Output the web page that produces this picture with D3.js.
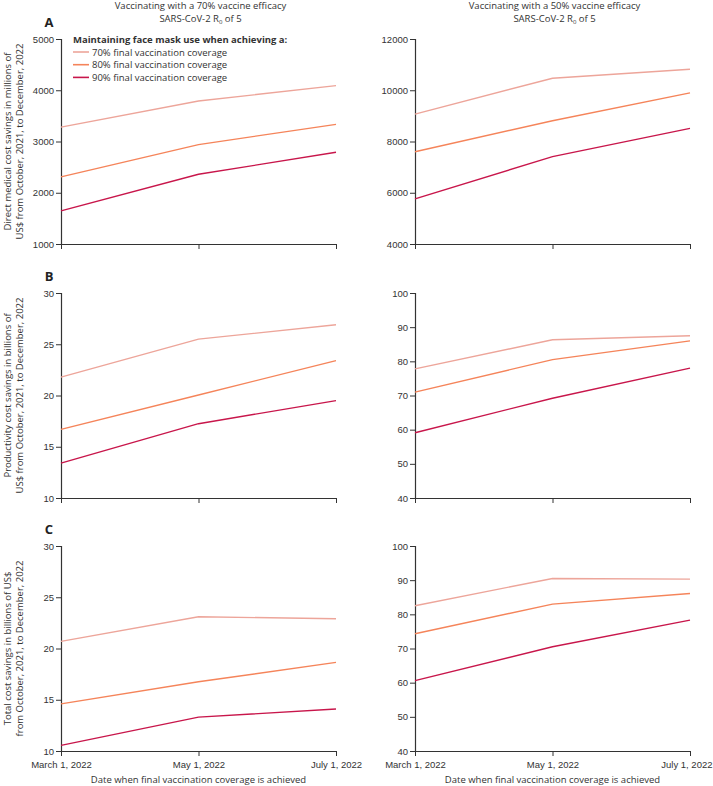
<!DOCTYPE html>
<html>
<head>
<meta charset="utf-8">
<script src="https://cdn.jsdelivr.net/npm/d3@7"></script>
<style>
  body { margin: 0; background: #fff; }
  svg { font-family: "Open Sans", "Noto Sans", sans-serif; }
  .tick text { fill: #333; font-size: 9.5px; }
  .domain, .tick line { stroke: #333; }
</style>
</head>
<body>
<svg id="chart"></svg>
<script>
const dates = ["March 1, 2022", "May 1, 2022", "July 1, 2022"];
const seriesNames = ["70% final vaccination coverage", "80% final vaccination coverage", "90%  final vaccination coverage"];
const colors = ["#eda59a", "#f5845a", "#c8164b"];

// panel A: direct medical cost savings (millions US$)
const directLeft70 = [3280, 3790, 4090];
const directLeft80 = [2310, 2940, 3335];
const directLeft90 = [1645, 2360, 2790];
const directRight70 = [9070, 10470, 10820];
const directRight80 = [7600, 8810, 9900];
const directRight90 = [5760, 7410, 8510];

// panel B: productivity cost savings (billions US$)
const prodLeft70 = [21.8, 25.5, 26.9];
const prodLeft80 = [16.7, 20.05, 23.4];
const prodLeft90 = [13.4, 17.25, 19.5];
const prodRight70 = [77.8, 86.3, 87.5];
const prodRight80 = [71.0, 80.5, 86.0];
const prodRight90 = [59.1, 69.2, 78.0];

// panel C: total cost savings (billions US$)
const totalLeft70 = [20.7, 23.1, 22.9];
const totalLeft80 = [14.6, 16.75, 18.65];
const totalLeft90 = [10.55, 13.3, 14.1];
const totalRight70 = [82.5, 90.5, 90.3];
const totalRight80 = [74.3, 83.0, 86.1];
const totalRight90 = [60.6, 70.5, 78.3];

const ticksA_left = [1000, 2000, 3000, 4000, 5000];
const ticksA_right = [4000, 6000, 8000, 10000, 12000];
const ticksBC_left = [10, 15, 20, 25, 30];
const ticksBC_right = [40, 50, 60, 70, 80, 90, 100];

const titles = [
  ["Vaccinating with a 70% vaccine efficacy", "SARS-CoV-2 R", "0", " of 5"],
  ["Vaccinating with a 50% vaccine efficacy", "SARS-CoV-2 R", "0", " of 5"]
];
const yLabels = [
  ["Direct medical cost savings in millions of", "US$ from October, 2021, to December, 2022"],
  ["Productivity cost savings in billions of", "US$ from October, 2021, to December, 2022"],
  ["Total cost savings in billions of US$", "from October, 2021, to December, 2022"]
];

const W = 713, H = 786;
const svg = d3.select("#chart").attr("width", W).attr("height", H);

const cols = [{x0: 61, x1: 336}, {x0: 415, x1: 690}];
const rows = [{y0: 39, y1: 244, letter: "A"}, {y0: 293, y1: 498, letter: "B"}, {y0: 546, y1: 751, letter: "C"}];

const panels = [
  {r: 0, c: 0, ticks: ticksA_left, data: [directLeft70, directLeft80, directLeft90]},
  {r: 0, c: 1, ticks: ticksA_right, data: [directRight70, directRight80, directRight90]},
  {r: 1, c: 0, ticks: ticksBC_left, data: [prodLeft70, prodLeft80, prodLeft90]},
  {r: 1, c: 1, ticks: ticksBC_right, data: [prodRight70, prodRight80, prodRight90]},
  {r: 2, c: 0, ticks: ticksBC_left, data: [totalLeft70, totalLeft80, totalLeft90]},
  {r: 2, c: 1, ticks: ticksBC_right, data: [totalRight70, totalRight80, totalRight90]}
];

panels.forEach(p => {
  const col = cols[p.c], row = rows[p.r];
  const x = d3.scalePoint().domain(dates).range([col.x0, col.x1]);
  const y = d3.scaleLinear().domain(d3.extent(p.ticks)).range([row.y1, row.y0]);
  const g = svg.append("g");

  const yAxis = g.append("g").attr("transform", `translate(${col.x0},0)`)
    .call(d3.axisLeft(y).tickValues(p.ticks).tickSize(5).tickPadding(2).tickFormat(d3.format("d")));
  const xAxis = g.append("g").attr("transform", `translate(0,${row.y1})`)
    .call(d3.axisBottom(x).tickSize(5).tickSizeOuter(0).tickFormat(p.r === 2 ? d => d : ""));
  xAxis.selectAll(".tick text").attr("dy", "0.9em");
  // keep the last date label inside the page on the right column
  if (p.c === 1) {
    xAxis.selectAll(".tick text").filter(d => d === dates[2])
      .attr("text-anchor", "end").attr("x", 22);
  }
  xAxis.select(".domain").attr("stroke-width", 1.2);
  yAxis.select(".domain").attr("stroke-width", 1.2);

  const line = d3.line().x((d, i) => x(dates[i])).y(d => y(d));
  p.data.forEach((s, i) => {
    g.append("path").datum(s).attr("d", line)
      .attr("fill", "none").attr("stroke", colors[i]).attr("stroke-width", 1.4);
  });

  if (p.c === 0) {
    svg.append("text").attr("x", 49).attr("y", row.y0 - 12).attr("text-anchor", "middle")
      .attr("font-size", 13).attr("font-weight", "bold").attr("fill", "#222").text(row.letter);
    const cy = (row.y0 + row.y1) / 2;
    yLabels[p.r].forEach((t, k) => {
      svg.append("text").attr("transform", `translate(${11 + k * 12},${cy}) rotate(-90)`)
        .attr("text-anchor", "middle").attr("font-size", 9.5).attr("fill", "#333").text(t);
    });
  }
  if (p.r === 2) {
    svg.append("text").attr("x", (col.x0 + col.x1) / 2).attr("y", 783).attr("text-anchor", "middle")
      .attr("font-size", 9.5).attr("fill", "#333").text("Date when final vaccination coverage is achieved");
  }
  if (p.r === 0) {
    const t = titles[p.c];
    const cx = (col.x0 + col.x1) / 2 + 2;
    svg.append("text").attr("x", cx).attr("y", 9).attr("text-anchor", "middle")
      .attr("font-size", 9.5).attr("fill", "#333").text(t[0]);
    const t2 = svg.append("text").attr("x", cx).attr("y", 22).attr("text-anchor", "middle")
      .attr("font-size", 9.5).attr("fill", "#333");
    t2.append("tspan").text(t[1]);
    t2.append("tspan").attr("font-size", 6).attr("dy", 2).text(t[2]);
    t2.append("tspan").attr("dy", -2).text(t[3]);
  }
});

// legend
const lg = svg.append("g").attr("transform", "translate(73,39)");
lg.append("text").attr("x", 0).attr("y", 4).attr("font-size", 9.5).attr("font-weight", "bold")
  .attr("fill", "#333").text("Maintaining face mask use when achieving a:");
seriesNames.forEach((n, i) => {
  const yy = 13 + i * 12.7;
  lg.append("line").attr("x1", 0).attr("x2", 16).attr("y1", yy).attr("y2", yy)
    .attr("stroke", colors[i]).attr("stroke-width", 1.6);
  lg.append("text").attr("x", 19).attr("y", yy + 3.5).attr("font-size", 9.5).attr("fill", "#333").text(n);
});
</script>
</body>
</html>
